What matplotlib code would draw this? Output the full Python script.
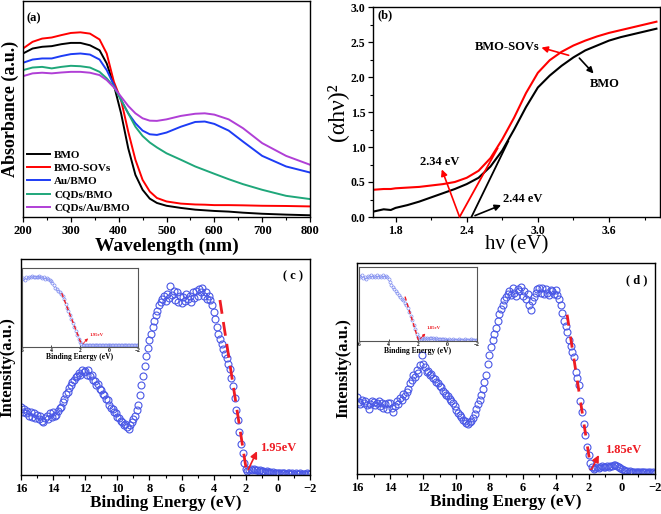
import numpy as np
import matplotlib
matplotlib.use('Agg')
import matplotlib.pyplot as plt
from matplotlib.ticker import MultipleLocator

plt.rcParams['font.family'] = ['Liberation Serif', 'DejaVu Serif']
plt.rcParams['font.weight'] = 'bold'
plt.rcParams['axes.labelweight'] = 'bold'

# ---- (a) UV-vis absorbance ----
wavelength = [200, 220, 240, 260, 280, 300, 320, 340, 360, 375, 390, 405, 420, 435, 450,
              465, 480, 500, 530, 560, 580, 600, 630, 660, 700, 750, 800]
abs_bmo = [0.757, 0.780, 0.788, 0.791, 0.800, 0.806, 0.806, 0.795, 0.772, 0.711, 0.611, 0.480, 0.318, 0.195,
           0.126, 0.085, 0.065, 0.052, 0.042, 0.034, 0.031, 0.028, 0.025, 0.020, 0.015, 0.011, 0.008]
abs_sovs = [0.780, 0.811, 0.826, 0.831, 0.842, 0.852, 0.855, 0.849, 0.822, 0.757, 0.626, 0.542, 0.395, 0.265,
            0.172, 0.118, 0.088, 0.072, 0.062, 0.058, 0.057, 0.055, 0.055, 0.054, 0.052, 0.051, 0.049]
abs_au = [0.714, 0.729, 0.734, 0.734, 0.745, 0.754, 0.757, 0.752, 0.729, 0.680, 0.611, 0.542, 0.480, 0.434,
          0.400, 0.383, 0.380, 0.391, 0.418, 0.440, 0.442, 0.431, 0.400, 0.349, 0.283, 0.234, 0.206]
abs_cqd = [0.680, 0.692, 0.695, 0.688, 0.695, 0.700, 0.698, 0.692, 0.672, 0.642, 0.603, 0.542, 0.480, 0.418,
           0.375, 0.345, 0.322, 0.295, 0.265, 0.234, 0.217, 0.200, 0.175, 0.152, 0.126, 0.098, 0.083]
abs_cqd_au = [0.652, 0.665, 0.668, 0.665, 0.669, 0.672, 0.672, 0.668, 0.657, 0.634, 0.600, 0.557, 0.514, 0.480,
              0.457, 0.446, 0.445, 0.452, 0.468, 0.478, 0.480, 0.474, 0.452, 0.411, 0.342, 0.283, 0.242]
series_a = ['BMO', 'BMO-SOVs', 'Au/BMO', 'CQDs/BMO', 'CQDs/Au/BMO']

# ---- (b) Tauc plot ----
hv = [1.62, 1.70, 1.76, 1.80, 1.90, 2.00, 2.10, 2.20, 2.30, 2.40, 2.50, 2.60, 2.70, 2.80, 2.90,
      3.00, 3.10, 3.20, 3.30, 3.40, 3.50, 3.60, 3.70, 3.80, 3.90, 4.00]
tauc_sovs = [0.39, 0.40, 0.40, 0.41, 0.42, 0.43, 0.45, 0.47, 0.50, 0.56, 0.66, 0.84, 1.11, 1.42, 1.77,
             2.06, 2.24, 2.36, 2.45, 2.52, 2.58, 2.63, 2.67, 2.71, 2.75, 2.79]
tauc_bmo = [0.08, 0.11, 0.10, 0.13, 0.17, 0.22, 0.28, 0.34, 0.40, 0.47, 0.56, 0.72, 0.95, 1.25, 1.57,
            1.85, 2.02, 2.16, 2.28, 2.38, 2.45, 2.52, 2.57, 2.61, 2.65, 2.69]
fit_sovs_x = [2.34, 2.66]
fit_sovs_y = [0.0, 0.98]
fit_bmo_x = [2.44, 2.75]
fit_bmo_y = [0.0, 1.08]

# ---- (c), (d) valence band XPS ----
be = np.round(np.linspace(16, -2, 181), 1)
vb_c = [31.5, 29.0, 30.5, 28.5, 29.5, 27.5, 29.0, 27.0, 28.5, 26.5,
        28.0, 26.0, 27.5, 25.0, 24.5, 26.5, 27.5, 26.0, 28.5, 27.0,
        29.0, 27.5, 28.0, 29.5, 31.0, 31.5, 34.0, 35.0, 37.5, 38.5,
        40.5, 41.5, 43.0, 44.0, 45.5, 46.0, 47.0, 46.5, 48.5, 47.5,
        48.0, 46.5, 48.5, 46.0, 46.5, 44.0, 43.5, 41.5, 42.0, 40.0,
        39.5, 37.5, 37.0, 35.0, 34.5, 32.5, 31.0, 30.5, 29.0, 28.5,
        27.0, 26.5, 25.0, 24.5, 23.0, 23.5, 22.0, 21.5, 23.0, 24.5,
        26.0, 27.5, 30.0, 32.5, 37.0, 41.5, 46.0, 50.5, 55.0, 59.0,
        62.5, 65.5, 68.5, 71.5, 74.0, 76.0, 78.5, 80.0, 81.5, 83.0,
        80.5, 84.0, 82.0, 87.5, 83.5, 85.0, 81.0, 84.5, 80.0, 83.0,
        79.5, 82.5, 80.5, 84.0, 81.5, 83.0, 80.0, 84.5, 82.0, 85.0,
        83.0, 86.0, 84.5, 86.5, 83.0, 84.5, 81.5, 83.0, 81.0, 78.5,
        75.5, 72.0, 68.5, 65.5, 63.0, 60.5, 58.5, 56.0, 54.0, 51.5,
        49.0, 45.0, 41.0, 35.5, 30.0, 25.5, 20.0, 14.5, 10.0, 5.5,
        3.0, 2.0, 2.5, 3.0, 2.5, 3.0, 2.5, 2.5, 2.0, 2.5,
        2.0, 2.0, 1.5, 2.0, 1.5, 1.5, 1.0, 1.5, 1.0, 1.0,
        1.0, 0.8, 1.0, 0.7, 0.8, 0.6, 0.8, 0.7, 0.5, 0.7,
        0.6, 0.8, 0.6, 0.5, 0.7, 0.6, 0.5, 0.6, 0.7, 0.5,
        0.6]
vb_d = [36.5, 34.0, 33.0, 35.0, 33.5, 34.5, 32.5, 31.0, 33.0, 34.5,
        34.0, 32.5, 33.5, 34.5, 32.0, 33.5, 31.5, 33.0, 31.0, 33.5,
        33.5, 31.5, 29.5, 32.0, 34.5, 33.0, 36.0, 35.0, 38.0, 37.0,
        39.0, 40.5, 43.0, 44.5, 47.0, 46.0, 49.5, 48.0, 51.5, 56.5,
        52.0, 50.5, 48.5, 49.0, 47.0, 47.5, 45.5, 45.0, 43.5, 43.0,
        41.5, 41.0, 39.5, 38.5, 37.5, 37.0, 35.5, 34.5, 33.5, 32.0,
        30.5, 29.0, 28.0, 27.0, 25.5, 25.0, 24.0, 23.5, 24.5, 25.0,
        26.5, 28.5, 31.0, 33.0, 35.0, 37.5, 40.5, 43.5, 47.0, 52.0,
        56.5, 60.0, 63.5, 66.5, 69.0, 72.5, 76.0, 78.0, 80.0, 82.5,
        84.0, 85.5, 86.5, 85.0, 88.0, 86.0, 84.5, 87.5, 86.5, 88.5,
        84.5, 86.5, 83.0, 85.5, 80.0, 77.5, 82.0, 84.0, 86.0, 87.5,
        88.0, 86.0, 88.0, 85.5, 87.5, 86.0, 85.0, 87.0, 86.5, 85.5,
        87.0, 85.0, 83.0, 80.0, 76.5, 72.5, 70.0, 67.5, 63.5, 60.5,
        58.0, 55.5, 48.5, 45.5, 42.0, 34.5, 29.5, 23.5, 18.5, 13.0,
        9.0, 5.0, 3.5, 2.5, 3.0, 3.5, 3.0, 3.5, 4.0, 3.5,
        3.5, 4.0, 3.5, 4.0, 4.0, 4.5, 4.5, 4.0, 3.5, 3.0,
        2.5, 2.0, 1.5, 1.5, 1.0, 1.2, 1.0, 1.0, 0.9, 1.0,
        1.0, 0.8, 0.9, 0.8, 0.9, 0.7, 0.8, 0.8, 0.7, 0.8,
        0.7]

be_ins = np.round(np.linspace(6, -2, 81), 1)
ins_c = [86, 87, 85, 88, 87, 89, 88, 90, 88, 89,
         89, 88, 90, 88, 87, 88, 86, 87, 86, 85,
         84, 81, 78, 75, 73, 71, 69, 67, 64, 61,
         55, 50, 45, 40, 35, 30, 25, 20, 15, 10,
         6, 4, 3, 3, 2.5, 3, 2.5, 3, 2.5, 3,
         2.5, 3, 2.5, 2.5, 3, 2.5, 2, 2.5, 2, 2.5,
         2, 2.5, 2, 2, 2.5, 2, 2, 2.5, 2, 2,
         2.5, 2, 2, 2.5, 2, 2, 2.5, 2, 2, 2,
         2]
ins_d = [88, 86, 89, 85, 87, 84, 88, 86, 89, 87,
         88, 86, 89, 87, 88, 86, 89, 87, 88, 86,
         84, 80, 76, 73, 70, 68, 65, 62, 60, 57,
         55, 52, 48, 44, 39, 34, 28, 22, 16, 10,
         6, 4, 3, 3.5, 3, 4, 3.5, 3, 3.5, 4,
         3.5, 3, 3.5, 3, 3, 2.5, 3, 2.5, 2.5, 2,
         2, 2.5, 2, 2, 2.5, 2, 2, 2, 2.5, 2,
         2, 2, 2.5, 2, 2, 2, 2.5, 2, 2, 2,
         2]

BLUE = '#4a58e6'
RED = '#ee1c24'

fig = plt.figure(figsize=(6.61, 5.14), dpi=100)
W, H = 661.0, 514.0


def box(l, t, r, b):
    return [l / W, 1 - b / H, (r - l) / W, (b - t) / H]


def style(ax, fs=9, xminor=None, yminor=None):
    for s in ax.spines.values():
        s.set_linewidth(1.0)
    ax.tick_params(which='major', direction='out', length=3.5, width=0.9, labelsize=fs, pad=2,
                   top=False, right=False)
    ax.tick_params(which='minor', direction='out', length=2, width=0.8, top=False, right=False)
    if xminor:
        ax.xaxis.set_minor_locator(MultipleLocator(xminor))
    if yminor:
        ax.yaxis.set_minor_locator(MultipleLocator(yminor))


# ---------- (a) ----------
ax = fig.add_axes(box(23, 1, 310, 217))
cols = ['black', '#ff0000', '#1d3cf5', '#1fa77a', '#b03fd6']
for vals, lab, c in zip([abs_bmo, abs_sovs, abs_au, abs_cqd, abs_cqd_au], series_a, cols):
    ax.plot(wavelength, vals, color=c, lw=1.4, label=lab)
ax.set_xlim(200, 800)
ax.set_ylim(0, 1.0)
ax.set_yticks([])
ax.set_xticks([200, 300, 400, 500, 600, 700, 800])
style(ax, xminor=50)
ax.set_xlabel('Wavelength (nm)', fontsize=14, labelpad=1)
ax.set_ylabel('Absorbance (a.u.)', fontsize=13, labelpad=3)
ax.text(0.012, 0.92, '(a)', transform=ax.transAxes, fontsize=9, ha='left', va='center')
ax.legend(loc='lower left', frameon=False, fontsize=8, handlelength=2.0, handletextpad=0.4,
          labelspacing=0.3, borderaxespad=0.3, borderpad=0.1)

# ---------- (b) ----------
ax = fig.add_axes(box(373, 7, 660, 217))
ax.plot(hv, tauc_sovs, color='#ff0000', lw=1.5)
ax.plot(hv, tauc_bmo, color='black', lw=1.5)
ax.plot(fit_sovs_x, fit_sovs_y, color='#ff0000', lw=1.3)
ax.plot(fit_bmo_x, fit_bmo_y, color='black', lw=1.3)
ax.set_xlim(1.61, 4.03)
ax.set_ylim(0, 3.0)
ax.set_xticks([1.8, 2.4, 3.0, 3.6])
ax.set_yticks([0.0, 0.5, 1.0, 1.5, 2.0, 2.5, 3.0])
ax.set_xticklabels(['1.8', '2.4', '3.0', '3.6'])
ax.set_yticklabels(['0.0', '0.5', '1.0', '1.5', '2.0', '2.5', '3.0'])
style(ax, fs=8.5, xminor=0.3, yminor=0.25)
ax.set_xlabel('hν (eV)', fontsize=15, fontweight='normal', labelpad=-1)
ax.set_ylabel('(αhν)²', fontsize=17, fontweight='normal', labelpad=2)
ax.text(0.017, 0.96, '(b)', transform=ax.transAxes, fontsize=9, ha='left', va='center')
arr = dict(arrowstyle='-|>', mutation_scale=9, lw=1.2, shrinkA=0, shrinkB=0)
ax.text(2.74, 2.43, 'BMO-SOVs', fontsize=9, ha='center', va='center')
ax.annotate('', xy=(3.03, 2.42), xytext=(3.26, 2.31), arrowprops=dict(arr, color='#ff0000'))
ax.text(3.56, 1.9, 'BMO', fontsize=9, ha='center', va='center')
ax.annotate('', xy=(3.47, 2.05), xytext=(3.35, 2.27), arrowprops=dict(arr, color='black'))
ax.text(2.17, 0.79, '2.34 eV', fontsize=9, ha='center', va='center')
ax.annotate('', xy=(2.19, 0.68), xytext=(2.34, 0.0), arrowprops=dict(arr, color='#ff0000'))
ax.text(2.87, 0.25, '2.44 eV', fontsize=9, ha='center', va='center')
ax.annotate('', xy=(2.69, 0.17), xytext=(2.47, 0.02), arrowprops=dict(arr, color='black'))


# ---------- (c), (d) ----------
def vb_panel(rect, vals, dash_x, dash_y, label, gap_text, head, tail, txt_xy, dash):
    ax = fig.add_axes(rect)
    ax.plot(be, vals, linestyle='none', marker='o', ms=5.0, mfc='none', mec=BLUE, mew=0.8)
    ax.plot(dash_x, dash_y, color=RED, lw=2.0, dashes=dash)
    ax.set_xlim(16, -2)
    ax.set_ylim(0, 100)
    ax.set_yticks([])
    ax.set_xticks([16, 14, 12, 10, 8, 6, 4, 2, 0, -2])
    style(ax, xminor=1)
    ax.set_xlabel('Binding Energy (eV)', fontsize=12.3, labelpad=0)
    ax.set_ylabel('Intensity(a.u.)', fontsize=12, labelpad=4)
    ax.text(0.94, 0.92, label, transform=ax.transAxes, fontsize=9, ha='center', va='center')
    ax.text(txt_xy[0], txt_xy[1], gap_text, color=RED, fontsize=9, ha='left', va='center')
    ax.annotate('', xy=head, xytext=tail,
                arrowprops=dict(arrowstyle='-|>', mutation_scale=10, color=RED, lw=1.2,
                                shrinkA=0, shrinkB=0))
    return ax


def vb_inset(rect, vals, dash_x, dash_y, gap_text, txt_xy, head, tail):
    ax = fig.add_axes(rect)
    ax.plot(be_ins, vals, linestyle='none', marker='o', ms=2.2, mfc='none', mec='#7f8cf0', mew=0.5)
    ax.plot(dash_x, dash_y, color=RED, lw=1.0, dashes=(3, 2))
    ax.set_xlim(6, -2)
    ax.set_ylim(0, 100)
    ax.set_yticks([])
    ax.set_xticks([6, 4, 2, 0, -2])
    for s in ax.spines.values():
        s.set_linewidth(0.8)
        s.set_color('#555555')
    ax.tick_params(direction='in', length=1.5, width=0.5, labelsize=4, pad=1)
    ax.set_xlabel('Binding Energy (eV)', fontsize=5.5, labelpad=0)
    ax.text(txt_xy[0], txt_xy[1], gap_text, color=RED, fontsize=3.5, ha='left', va='center')
    ax.annotate('', xy=head, xytext=tail,
                arrowprops=dict(arrowstyle='-|>', mutation_scale=4, color=RED, lw=0.6,
                                shrinkA=0, shrinkB=0))


vb_panel(box(21, 259, 310, 475), vb_c, [3.61, 1.95], [81.0, 1.5], '( c )', '1.95eV',
         (1.3, 11.0), (1.85, 2.5), (1.1, 12.3), (5, 3))
vb_inset(box(22, 268, 138, 347), ins_c, [3.26, 1.88], [68, 2.5], '1.95eV',
         (1.35, 15), (1.45, 11), (1.8, 4))

vb_panel(box(357, 263, 655, 474), vb_d, [3.31, 1.86], [75.5, 1.9], '( d )', '1.85eV',
         (1.39, 9.0), (1.8, 2.7), (0.99, 11.4), (4, 4))
vb_inset(box(359, 267, 477, 341), ins_d, [2.88, 1.98], [60, 1.4], '1.85eV',
         (1.45, 17), (1.5, 10), (1.85, 3))

fig.savefig('out.png', dpi=100)
